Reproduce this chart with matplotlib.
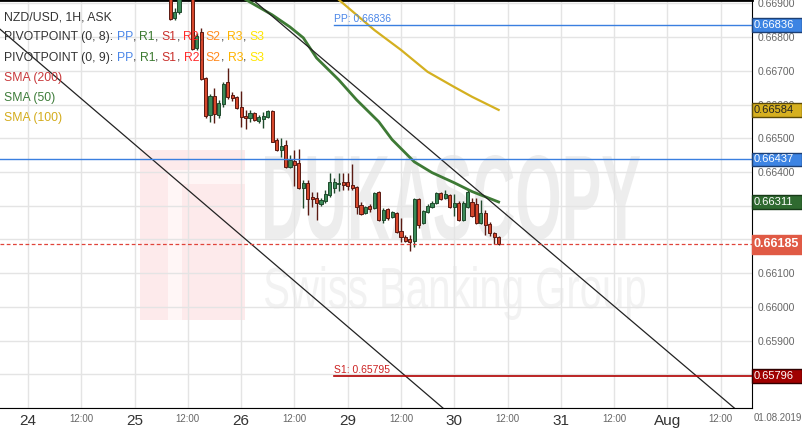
import numpy as np
import matplotlib.pyplot as plt
from matplotlib.textpath import TextPath
from matplotlib.patches import PathPatch, Rectangle
from matplotlib.font_manager import FontProperties
from matplotlib.transforms import Affine2D, blended_transform_factory

plt.rcParams['font.family'] = ['Liberation Sans', 'DejaVu Sans']

# hourly candles, hour 0 = 24 Jul 00:00 (weekend removed)
first_hour = 32
opens = [0.66928, 0.66857, 0.66874, 0.66922, 0.66946, 0.66928, 0.66768, 0.66815, 0.66679, 0.66570,
         0.66626, 0.66570, 0.66602, 0.66667, 0.66629, 0.66623, 0.66593, 0.66567, 0.66561, 0.66576,
         0.66552, 0.66558, 0.66564, 0.66581, 0.66496, 0.66466, 0.66481, 0.66416, 0.66433, 0.66428,
         0.66351, 0.66368, 0.66327, 0.66324, 0.66306, 0.66315, 0.66333, 0.66351, 0.66365, 0.66371,
         0.66371, 0.66362, 0.66356, 0.66303, 0.66277, 0.66300, 0.66294, 0.66342, 0.66259, 0.66291,
         0.66265, 0.66277, 0.66226, 0.66208, 0.66200, 0.66194, 0.66321, 0.66250, 0.66280, 0.66297,
         0.66309, 0.66339, 0.66324, 0.66333, 0.66297, 0.66309, 0.66259, 0.66297, 0.66312, 0.66306,
         0.66250, 0.66277, 0.66247, 0.66220, 0.66208]
highs = [0.66940, 0.66886, 0.66934, 0.66957, 0.66963, 0.66940, 0.66812, 0.66827, 0.66682, 0.66632,
         0.66650, 0.66614, 0.66667, 0.66709, 0.66638, 0.66626, 0.66641, 0.66584, 0.66584, 0.66578,
         0.66570, 0.66578, 0.66584, 0.66584, 0.66502, 0.66502, 0.66496, 0.66451, 0.66466, 0.66469,
         0.66377, 0.66377, 0.66342, 0.66342, 0.66324, 0.66348, 0.66398, 0.66383, 0.66398, 0.66398,
         0.66398, 0.66425, 0.66359, 0.66312, 0.66300, 0.66306, 0.66342, 0.66345, 0.66294, 0.66294,
         0.66285, 0.66280, 0.66262, 0.66214, 0.66214, 0.66324, 0.66324, 0.66288, 0.66306, 0.66315,
         0.66342, 0.66342, 0.66348, 0.66336, 0.66336, 0.66315, 0.66315, 0.66348, 0.66324, 0.66324,
         0.66318, 0.66288, 0.66253, 0.66223, 0.66211]
lows = [0.66851, 0.66851, 0.66869, 0.66919, 0.66919, 0.66762, 0.66762, 0.66673, 0.66561, 0.66549,
        0.66546, 0.66561, 0.66593, 0.66617, 0.66611, 0.66587, 0.66534, 0.66528, 0.66549, 0.66552,
        0.66546, 0.66531, 0.66561, 0.66488, 0.66463, 0.66445, 0.66413, 0.66413, 0.66359, 0.66350,
        0.66294, 0.66271, 0.66297, 0.66259, 0.66300, 0.66309, 0.66327, 0.66339, 0.66345, 0.66348,
        0.66348, 0.66348, 0.66274, 0.66271, 0.66274, 0.66282, 0.66291, 0.66256, 0.66250, 0.66259,
        0.66262, 0.66220, 0.66191, 0.66191, 0.66167, 0.66176, 0.66235, 0.66247, 0.66277, 0.66294,
        0.66306, 0.66318, 0.66321, 0.66294, 0.66268, 0.66256, 0.66256, 0.66294, 0.66265, 0.66247,
        0.66247, 0.66214, 0.66211, 0.66185, 0.66182]
closes = [0.66854, 0.66874, 0.66922, 0.66946, 0.66928, 0.66765, 0.66803, 0.66676, 0.66567, 0.66626,
          0.66573, 0.66605, 0.66661, 0.66623, 0.66620, 0.66590, 0.66564, 0.66561, 0.66576, 0.66555,
          0.66564, 0.66567, 0.66581, 0.66490, 0.66466, 0.66478, 0.66416, 0.66436, 0.66422, 0.66353,
          0.66368, 0.66321, 0.66321, 0.66309, 0.66318, 0.66336, 0.66371, 0.66371, 0.66368, 0.66362,
          0.66359, 0.66353, 0.66297, 0.66274, 0.66297, 0.66291, 0.66339, 0.66259, 0.66288, 0.66262,
          0.66280, 0.66223, 0.66206, 0.66194, 0.66191, 0.66321, 0.66244, 0.66285, 0.66300, 0.66309,
          0.66339, 0.66321, 0.66336, 0.66297, 0.66309, 0.66259, 0.66309, 0.66342, 0.66268, 0.66250,
          0.66277, 0.66244, 0.66220, 0.66208, 0.66185]

# moving averages
sma50_hours = [48, 55, 59, 62, 65, 70, 74, 79, 82, 87, 91, 96, 100, 106]
sma50_vals = [0.66919, 0.66866, 0.66830, 0.66798, 0.66738, 0.66673, 0.66614, 0.66549,
              0.66496, 0.66430, 0.66398, 0.66368, 0.66342, 0.66311]
sma100_hours = [69, 78, 84, 90, 96, 100, 106]
sma100_vals = [0.66922, 0.66821, 0.66762, 0.66697, 0.66652, 0.66623, 0.66584]

# channel lines (two anchor points each)
trend_a = [(-6, 0.66820), (93, 0.65705)]
trend_b = [(50.7, 0.66910), (158.8, 0.65703)]

pivot_start = 69
pp_level = 0.66836
s1_level = 0.65795
blue_level = 0.66437
last_price = 0.66185

tick_hours = list(range(0, 157, 12))
tick_labels = ['24', '12:00', '25', '12:00', '26', '12:00', '29', '12:00',
               '30', '12:00', '31', '12:00', 'Aug', '12:00']
price_ticks = [0.657, 0.658, 0.659, 0.660, 0.661, 0.662, 0.663, 0.664, 0.665, 0.666, 0.667, 0.668, 0.669]
hidden_ticks = [0.657, 0.658, 0.662, 0.663]  # covered by the price boxes

box_prices = [0.66836, 0.66584, 0.66437, 0.66311, 0.66185, 0.65796]
box_fill = ['#3d84e3', '#d6b020', '#3d84e3', '#2f6a30', '#e05a45', '#a00000']
box_edge = ['#1d3f73', '#5c4a06', '#1d3f73', '#173a18', '#e05a45', '#300000']
box_text = ['white', '#222222', 'white', 'white', 'white', 'white']

fig = plt.figure(figsize=(8.03, 4.33), dpi=100)
ax = fig.add_axes([0, 25 / 433, 752 / 803, 408 / 433])
ax.set_xlim(-28 / 4.44, 724 / 4.44)
ax.set_ylim(0.65703, 0.66910)

# watermark
def fit_text(s, box, color, weight):
    tp = TextPath((0, 0), s, size=100, prop=FontProperties(family='Liberation Sans', weight=weight))
    e = tp.get_extents()
    x0, y0, x1, y1 = box
    tr = Affine2D().translate(-e.x0, -e.y0).scale((x1 - x0) / e.width, (y1 - y0) / e.height)
    tr = tr.translate(x0, y0) + ax.transAxes
    ax.add_patch(PathPatch(tp, transform=tr, fc=color, ec='none', zorder=0))

fit_text('DUKASCOPY', (265 / 752, 168 / 408, 640 / 752, 253 / 408), '#ededed', 'bold')
fit_text('Swiss Banking Group', (265 / 752, 88 / 408, 645 / 752, 142 / 408), '#f2f2f2', 'normal')
ax.add_patch(Rectangle((140 / 752, 88 / 408), 105 / 752, 170 / 408, transform=ax.transAxes,
                       fc='#fdeaeb', ec='none', zorder=0))
ax.add_patch(Rectangle((168 / 752, 88 / 408), 14 / 752, 150 / 408, transform=ax.transAxes,
                       fc='#fff6f6', ec='none', zorder=0))
ax.add_patch(Rectangle((168 / 752, 224 / 408), 77 / 752, 14 / 408, transform=ax.transAxes,
                       fc='#fff6f6', ec='none', zorder=0))

ax.set_xticks(tick_hours)
ax.set_xticklabels(tick_labels)
for lab, txt in zip(ax.get_xticklabels(), tick_labels):
    if txt == '12:00':
        lab.set_fontsize(7)
        lab.set_color('#666666')
    else:
        lab.set_fontsize(11)
        lab.set_color('#333333')
        lab.set_family(['Liberation Sans Narrow', 'Liberation Sans'])
ax.set_yticks(price_ticks)
ax.set_yticklabels(['' if p in hidden_ticks else '%.5f' % p for p in price_ticks])
ax.yaxis.tick_right()
ax.tick_params(axis='y', length=0, pad=4, labelsize=7.5, labelcolor='#666666')
ax.tick_params(axis='x', length=0, pad=4)
ax.grid(color='#e4e4e4', lw=1, zorder=0.5)
ax.set_axisbelow(True)
ax.spines['left'].set_visible(False)
ax.spines['right'].set_color('black')
ax.spines['bottom'].set_color('black')
ax.spines['top'].set_linewidth(2)

# candles
hours = np.arange(first_hour, first_hour + len(opens))
o = np.array(opens); h = np.array(highs); l = np.array(lows); c = np.array(closes)
up = c >= o
ax.vlines(hours[up], l[up], h[up], color='#1f4a2c', lw=1, zorder=2)
ax.vlines(hours[~up], l[~up], h[~up], color='#5a1a12', lw=1, zorder=2)
body_h = np.maximum(np.abs(c - o), 0.00002)
ax.bar(hours[up], body_h[up], bottom=np.minimum(o, c)[up], width=0.7,
       color='#3b8a58', edgecolor='#1f4a2c', lw=0.7, zorder=3)
ax.bar(hours[~up], body_h[~up], bottom=np.minimum(o, c)[~up], width=0.7,
       color='#d6472c', edgecolor='#5a1a12', lw=0.7, zorder=3)

# indicator lines
ax.plot(sma50_hours, sma50_vals, color='#3e7a35', lw=2, zorder=4)
ax.plot(sma100_hours, sma100_vals, color='#d4b020', lw=1.6, zorder=4)
ax.axline(trend_a[0], trend_a[1], color='#222222', lw=0.9, zorder=4)
ax.axline(trend_b[0], trend_b[1], color='#222222', lw=0.9, zorder=4)

xr = ax.get_xlim()[1]
ax.plot([pivot_start, xr], [pp_level, pp_level], color='#3a7fe0', lw=1, zorder=4)
ax.plot([pivot_start, xr], [s1_level, s1_level], color='#b00000', lw=1.2, zorder=4)
ax.axhline(blue_level, color='#3a7fe0', lw=1, zorder=4)
ax.axhline(last_price, color='#e0443a', lw=0.9, ls=(0, (3, 2)), zorder=4)
ax.text(pivot_start, pp_level + 0.00004, 'PP: %.5f' % pp_level, color='#4a86e8', fontsize=7.5,
        va='bottom', ha='left', zorder=5)
ax.text(pivot_start, s1_level + 0.00004, 'S1: %.5f' % s1_level, color='#cc2222', fontsize=7.5,
        va='bottom', ha='left', zorder=5)

# price boxes on the axis
bt = blended_transform_factory(ax.transAxes, ax.transData)
for p, fc, ec, tc in zip(box_prices, box_fill, box_edge, box_text):
    big = p == last_price
    hh = (19 if big else 14) / 33800
    ax.add_patch(Rectangle((1.0, p - hh / 2), 50 / 752, hh, transform=bt, fc=fc, ec=ec,
                           lw=1, clip_on=False, zorder=10))
    ax.text(1.0 + 2 / 752, p, '%.5f' % p, transform=bt, color=tc, fontsize=9 if big else 8,
            fontweight='bold' if big else 'normal', va='center', ha='left', clip_on=False, zorder=11)

fig.text(778 / 803, 1 - 418 / 433, '01.08.2019', fontsize=7, color='#666666', ha='center', va='center')

# legend block
fs = 8.8
ytop = 1 - 17 / 408
step = 20.3 / 408
ax.text(4 / 752, ytop, 'NZD/USD, 1H, ASK', transform=ax.transAxes, fontsize=fs, color='#333333',
        va='center', zorder=6)
piv_names = ['PP', 'R1', 'S1', 'R2', 'S2', 'R3', 'S3']
piv_colors = ['#4a86e8', '#3c7a30', '#c9302c', '#ff2a2a', '#ff8a1e', '#ffb400', '#ffe600']
for row, per in enumerate([8, 9]):
    t = ax.text(4 / 752, ytop - step * (row + 1), 'PIVOTPOINT (0, %d): ' % per, transform=ax.transAxes,
                fontsize=fs, color='#333333', va='center', zorder=6)
    for i, (nm, col) in enumerate(zip(piv_names, piv_colors)):
        t = ax.annotate(nm, xy=(1, 0), xycoords=t, fontsize=fs, color=col, va='bottom', ha='left', zorder=6)
        if i < len(piv_names) - 1:
            t = ax.annotate(', ', xy=(1, 0), xycoords=t, fontsize=fs, color='#333333', va='bottom',
                            ha='left', zorder=6)
sma_names = ['SMA (200)', 'SMA (50)', 'SMA (100)']
sma_colors = ['#c8393b', '#3e7d3a', '#d4ac1c']
for i, (nm, col) in enumerate(zip(sma_names, sma_colors)):
    ax.text(4 / 752, ytop - step * (i + 3), nm, transform=ax.transAxes, fontsize=fs, color=col,
            va='center', zorder=6)

fig.savefig('out.png', dpi=100)
